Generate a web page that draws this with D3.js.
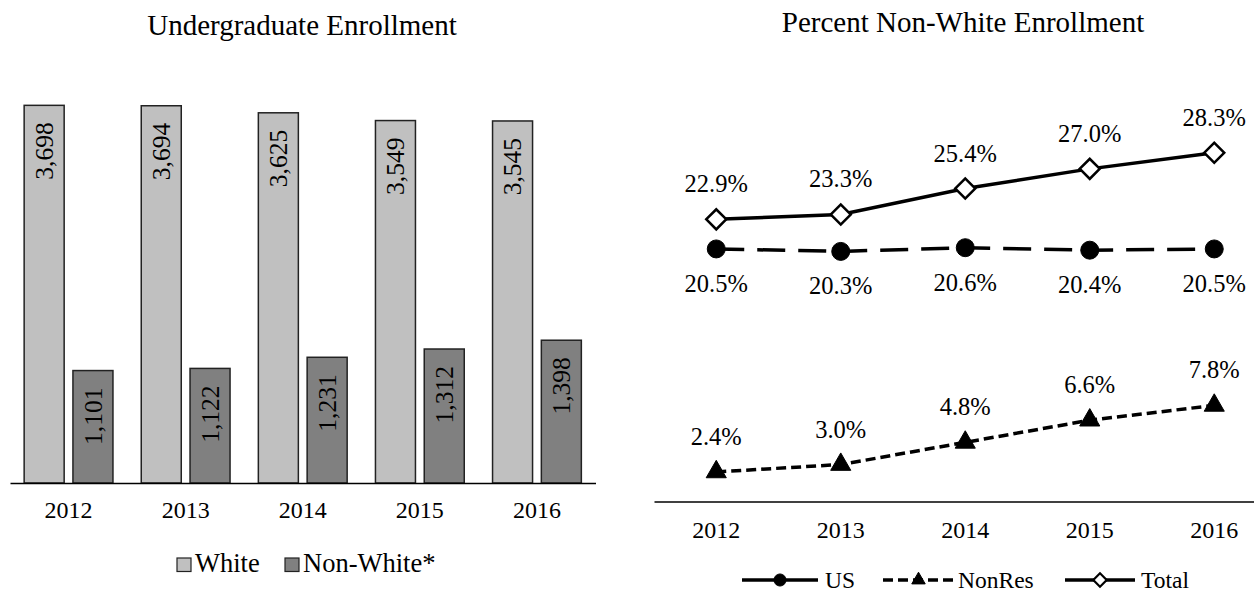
<html>
<head>
<style>
  body { margin: 0; background: #fff; }
  svg { font-family: "Liberation Serif", "Times New Roman", serif; }
  .axis path { stroke: #000; stroke-width: 1.5; }
  .axis text { font-size: 24px; fill: #000; font-family: "Liberation Serif", serif; }
</style>
</head>
<body>
<svg id="chart" width="1254" height="591"></svg>
<script src="https://cdn.jsdelivr.net/npm/d3@7"></script>
<script>
// data
const years = ["2012", "2013", "2014", "2015", "2016"]
const groups = ["White", "Non-White*"]
const white = [3698, 3694, 3625, 3549, 3545]
const nonWhite = [1101, 1122, 1231, 1312, 1398]

const lineNames = ["US", "NonRes", "Total"]
const usPct = [20.5, 20.3, 20.6, 20.4, 20.5]
const nonResPct = [2.4, 3.0, 4.8, 6.6, 7.8]
const totalPct = [22.9, 23.3, 25.4, 27.0, 28.3]

let svg = d3.select("#chart")

// ---------- left: bar chart ----------
let barColors = { "White": "#c0c0c0", "Non-White*": "#808080" }

let x0 = d3.scaleBand().domain(years).range([10, 595.5])
let x1 = d3.scaleBand().domain(groups).range([0, x0.bandwidth()])
  .paddingInner(0.18).paddingOuter(0.29)
let yBar = d3.scaleLinear().domain([0, 4000]).range([483, 74.5])

let barData = years.map((y, i) => ({ year: y, vals: [
  { key: "White", value: white[i] },
  { key: "Non-White*", value: nonWhite[i] }
]}))

svg.append("text")
  .attr("x", 302).attr("y", 35)
  .attr("text-anchor", "middle")
  .attr("font-size", 29)
  .text("Undergraduate Enrollment")

let grp = svg.append("g").selectAll("g")
  .data(barData).join("g")
  .attr("transform", d => "translate(" + x0(d.year) + ",0)")

grp.selectAll("rect")
  .data(d => d.vals).join("rect")
  .attr("x", d => x1(d.key))
  .attr("width", x1.bandwidth())
  .attr("y", d => yBar(d.value))
  .attr("height", d => yBar(0) - yBar(d.value))
  .attr("fill", d => barColors[d.key])
  .attr("stroke", "#222")
  .attr("stroke-width", 1.5)

// value labels, rotated inside top of bar
grp.selectAll("text.val")
  .data(d => d.vals).join("text")
  .attr("class", "val")
  .attr("transform", d => "translate(" + (x1(d.key) + x1.bandwidth() / 2) + "," + (yBar(d.value) + 17) + ") rotate(-90)")
  .attr("text-anchor", "end")
  .attr("dy", "0.35em")
  .attr("font-size", 25.5)
  .text(d => d3.format(",")(d.value))

svg.append("g")
  .attr("class", "axis")
  .attr("transform", "translate(0,483)")
  .call(d3.axisBottom(x0).tickSize(0).tickSizeOuter(0).tickPadding(18))

// legend left
let legL = svg.append("g").selectAll("g")
  .data(groups).join("g")
  .attr("transform", (d, i) => "translate(" + [177, 285][i] + ",0)")
legL.append("rect")
  .attr("x", 0).attr("y", 558)
  .attr("width", 14).attr("height", 13.5)
  .attr("fill", d => barColors[d])
  .attr("stroke", "#222").attr("stroke-width", 1.2)
legL.append("text")
  .attr("x", 18).attr("y", 571.5)
  .attr("font-size", 26.5)
  .text(d => d)

// ---------- right: line chart ----------
svg.append("text")
  .attr("x", 963).attr("y", 32)
  .attr("text-anchor", "middle")
  .attr("font-size", 29)
  .text("Percent Non-White Enrollment")

let xLine = d3.scaleBand().domain(years).range([654, 1276.5])
let yLine = d3.scaleLinear().domain([0, 35]).range([501.5, 70.3])
let cx = y => xLine(y) + xLine.bandwidth() / 2

svg.append("g")
  .attr("class", "axis")
  .attr("transform", "translate(0,501.5)")
  .call(d3.axisBottom(xLine).tickSize(0).tickSizeOuter(0).tickPadding(19))

let series = [
  { name: "US", vals: usPct, dash: "28,13", symbol: d3.symbolCircle, size: 254, fill: "#000", label: 43 },
  { name: "NonRes", vals: nonResPct, dash: "10,5", symbol: d3.symbolTriangle, size: 175, fill: "#000", label: -27 },
  { name: "Total", vals: totalPct, dash: null, symbol: d3.symbolSquare, size: 200, fill: "#fff", label: -27 }
]

let valueLine = d3.line()
  .x((d, i) => cx(years[i]))
  .y(d => yLine(d))

let sg = svg.append("g").selectAll("g")
  .data(series).join("g")

sg.append("path")
  .attr("d", d => valueLine(d.vals))
  .attr("fill", "none")
  .attr("stroke", "#000")
  .attr("stroke-width", 3.5)
  .attr("stroke-dasharray", d => d.dash)

sg.each(function (s) {
  let g = d3.select(this)
  g.selectAll("path.mark")
    .data(s.vals).join("path")
    .attr("class", "mark")
    .attr("d", d3.symbol().type(s.symbol).size(s.size))
    .attr("transform", (d, i) => "translate(" + cx(years[i]) + "," + yLine(d) + ")" + (s.name == "Total" ? " rotate(45)" : ""))
    .attr("fill", s.fill)
    .attr("stroke", "#000")
    .attr("stroke-width", s.name == "Total" ? 2.5 : 1)
  g.selectAll("text")
    .data(s.vals).join("text")
    .attr("x", (d, i) => cx(years[i]))
    .attr("y", d => yLine(d) + s.label)
    .attr("text-anchor", "middle")
    .attr("font-size", 24.5)
    .text(d => d.toFixed(1) + "%")
})

// legend right
let legPos = [742, 883, 1065]
let legLen = [76, 71, 70]
let legTxt = [83, 75, 76]
let legR = svg.append("g").selectAll("g")
  .data(series).join("g")
  .attr("transform", (d, i) => "translate(" + legPos[i] + ",580)")
legR.append("line")
  .attr("x1", 0).attr("x2", (d, i) => legLen[i])
  .attr("stroke", "#000").attr("stroke-width", 3.5)
  .attr("stroke-dasharray", d => d.name == "NonRes" ? "10,5" : null)
legR.append("path")
  .attr("d", d => d3.symbol().type(d.symbol).size(d.size * 0.45)())
  .attr("transform", (d, i) => "translate(" + (legLen[i] / 2) + ",0)" + (d.name == "Total" ? " rotate(45)" : ""))
  .attr("fill", d => d.fill)
  .attr("stroke", "#000")
  .attr("stroke-width", d => d.name == "Total" ? 2.2 : 1)
legR.append("text")
  .attr("x", (d, i) => legTxt[i])
  .attr("y", 7.5)
  .attr("font-size", 23.5)
  .text(d => d.name)
</script>
</body>
</html>
